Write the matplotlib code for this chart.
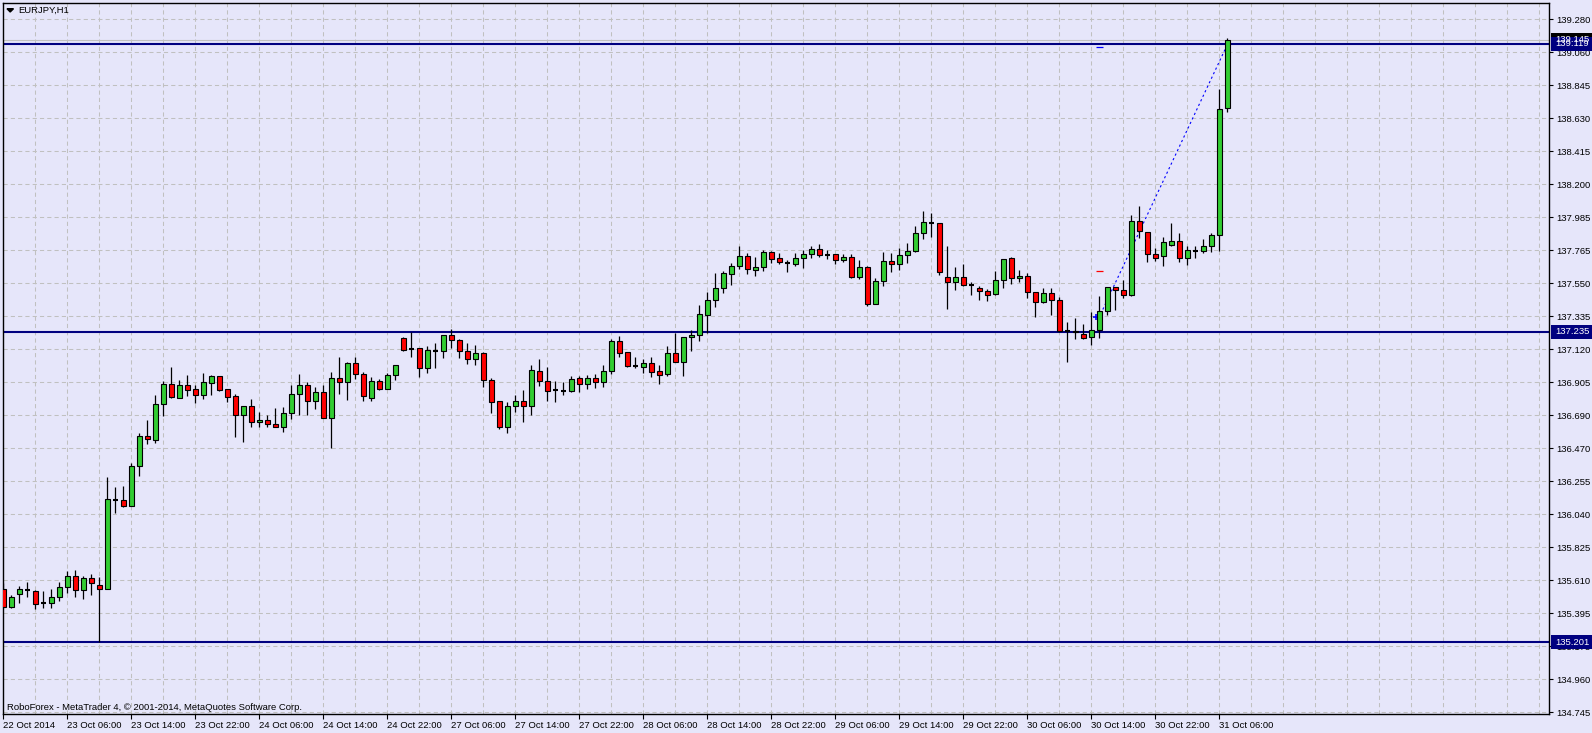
import matplotlib
matplotlib.use("Agg")
import matplotlib.pyplot as plt
import matplotlib.transforms as mtransforms
from matplotlib.patches import Rectangle, Polygon
import numpy as np

plt.rcParams["font.family"] = ["Liberation Sans", "DejaVu Sans"]

# 数据：EURJPY H1 蜡烛图 (开, 高, 低, 收)
opens = [135.548, 135.434, 135.515, 135.543, 135.535, 135.456, 135.456, 135.496, 135.561, 135.635,
         135.545, 135.620, 135.574, 135.552, 136.132, 136.130, 136.095, 136.353, 136.549, 136.527,
         136.759, 136.889, 136.802, 136.883, 136.857, 136.821, 136.896, 136.942, 136.857, 136.811,
         136.687, 136.746, 136.641, 136.656, 136.628, 136.612, 136.700, 136.824, 136.885, 136.778,
         136.837, 136.667, 136.929, 136.903, 137.027, 136.955, 136.802, 136.909, 136.861, 136.948,
         137.191, 137.122, 137.125, 136.994, 137.109, 137.105, 137.210, 137.177, 137.105, 137.053,
         137.092, 136.916, 136.778, 136.612, 136.746, 136.778, 136.746, 136.975, 136.909, 136.850,
         136.844, 136.844, 136.929, 136.889, 136.929, 136.907, 136.978, 137.171, 137.099, 137.011,
         137.005, 137.027, 136.975, 136.959, 137.092, 137.037, 137.197, 137.210, 137.345, 137.439,
         137.518, 137.609, 137.662, 137.727, 137.636, 137.655, 137.753, 137.714, 137.683, 137.675,
         137.714, 137.740, 137.773, 137.734, 137.740, 137.701, 137.720, 137.594, 137.655, 137.417,
         137.564, 137.694, 137.675, 137.734, 137.760, 137.878, 137.945, 137.943, 137.590, 137.557,
         137.590, 137.541, 137.518, 137.498, 137.478, 137.570, 137.714, 137.583, 137.596, 137.491,
         137.426, 137.485, 137.439, 137.240, 137.240, 137.221, 137.201, 137.247, 137.371, 137.524,
         137.505, 137.472, 137.956, 137.884, 137.740, 137.727, 137.799, 137.825, 137.714, 137.760,
         137.760, 137.793, 137.865, 138.696]
highs = [135.589, 135.511, 135.568, 135.594, 135.543, 135.537, 135.550, 135.598, 135.670, 135.674,
         135.637, 135.650, 135.630, 136.285, 136.219, 136.224, 136.376, 136.569, 136.656, 136.819,
         136.911, 137.005, 136.918, 136.950, 136.885, 136.965, 136.952, 136.944, 136.859, 136.826,
         136.748, 136.793, 136.708, 136.689, 136.734, 136.739, 136.885, 136.957, 136.903, 136.870,
         136.885, 136.970, 137.066, 137.033, 137.066, 136.972, 136.937, 136.922, 136.961, 137.018,
         137.197, 137.234, 137.128, 137.142, 137.158, 137.213, 137.249, 137.188, 137.158, 137.145,
         137.099, 136.929, 136.781, 136.772, 136.817, 136.850, 137.014, 137.053, 137.001, 136.909,
         136.903, 136.942, 136.942, 136.948, 136.957, 137.016, 137.188, 137.206, 137.102, 137.070,
         137.053, 137.068, 137.018, 137.140, 137.225, 137.200, 137.243, 137.408, 137.494, 137.618,
         137.629, 137.681, 137.793, 137.747, 137.721, 137.766, 137.764, 137.747, 137.701, 137.747,
         137.766, 137.793, 137.806, 137.766, 137.743, 137.740, 137.740, 137.701, 137.662, 137.583,
         137.753, 137.747, 137.779, 137.812, 137.923, 138.022, 138.010, 137.946, 137.793, 137.655,
         137.675, 137.557, 137.531, 137.511, 137.629, 137.710, 137.720, 137.636, 137.616, 137.494,
         137.518, 137.518, 137.463, 137.295, 137.321, 137.284, 137.361, 137.465, 137.527, 137.527,
         137.570, 137.995, 138.054, 137.886, 137.779, 137.851, 137.943, 137.878, 137.793, 137.793,
         137.838, 137.878, 138.822, 139.154]
lows = [135.426, 135.428, 135.460, 135.500, 135.419, 135.424, 135.428, 135.473, 135.526, 135.500,
        135.484, 135.511, 135.201, 135.548, 136.049, 136.088, 136.090, 136.291, 136.501, 136.507,
        136.682, 136.802, 136.798, 136.815, 136.769, 136.795, 136.821, 136.846, 136.776, 136.547,
        136.514, 136.612, 136.612, 136.612, 136.608, 136.579, 136.664, 136.689, 136.689, 136.728,
        136.667, 136.475, 136.828, 136.789, 136.926, 136.782, 136.782, 136.854, 136.858, 136.918,
        137.109, 137.070, 136.939, 136.961, 136.994, 137.064, 137.125, 137.064, 137.024, 137.018,
        136.874, 136.700, 136.599, 136.573, 136.710, 136.645, 136.691, 136.880, 136.782, 136.776,
        136.817, 136.840, 136.837, 136.861, 136.867, 136.874, 136.959, 137.070, 137.005, 136.998,
        136.965, 136.939, 136.893, 136.946, 137.033, 136.946, 137.109, 137.175, 137.223, 137.397,
        137.485, 137.537, 137.642, 137.609, 137.596, 137.629, 137.681, 137.675, 137.626, 137.666,
        137.653, 137.714, 137.720, 137.707, 137.679, 137.688, 137.587, 137.581, 137.404, 137.414,
        137.531, 137.626, 137.639, 137.685, 137.753, 137.838, 137.851, 137.603, 137.380, 137.505,
        137.531, 137.472, 137.439, 137.433, 137.472, 137.522, 137.548, 137.561, 137.452, 137.328,
        137.423, 137.341, 137.233, 137.035, 137.188, 137.188, 137.149, 137.194, 137.345, 137.378,
        137.452, 137.469, 137.845, 137.688, 137.694, 137.662, 137.796, 137.688, 137.668, 137.714,
        137.747, 137.753, 137.760, 138.669]
closes = [135.434, 135.500, 135.552, 135.543, 135.452, 135.456, 135.496, 135.561, 135.635, 135.545,
          135.622, 135.587, 135.552, 136.137, 136.132, 136.095, 136.355, 136.549, 136.530, 136.761,
          136.889, 136.808, 136.883, 136.854, 136.821, 136.903, 136.942, 136.852, 136.808, 136.687,
          136.746, 136.641, 136.656, 136.628, 136.612, 136.700, 136.824, 136.885, 136.778, 136.837,
          136.671, 136.929, 136.903, 137.027, 136.955, 136.811, 136.909, 136.861, 136.948, 137.014,
          137.116, 137.122, 136.994, 137.112, 137.109, 137.210, 137.177, 137.105, 137.053, 137.092,
          136.916, 136.772, 136.612, 136.746, 136.778, 136.746, 136.981, 136.909, 136.844, 136.850,
          136.844, 136.922, 136.889, 136.929, 136.907, 136.977, 137.171, 137.096, 137.011, 137.011,
          137.027, 136.972, 136.952, 137.092, 137.037, 137.197, 137.210, 137.348, 137.439, 137.518,
          137.616, 137.662, 137.727, 137.642, 137.655, 137.753, 137.707, 137.688, 137.683, 137.714,
          137.740, 137.773, 137.734, 137.734, 137.701, 137.720, 137.594, 137.655, 137.417, 137.564,
          137.694, 137.675, 137.734, 137.760, 137.878, 137.950, 137.945, 137.622, 137.557, 137.590,
          137.537, 137.541, 137.498, 137.472, 137.570, 137.707, 137.583, 137.596, 137.491, 137.426,
          137.485, 137.439, 137.236, 137.240, 137.230, 137.194, 137.247, 137.371, 137.524, 137.505,
          137.472, 137.956, 137.891, 137.740, 137.714, 137.819, 137.825, 137.714, 137.766, 137.760,
          137.793, 137.865, 138.689, 139.145]

# 时间轴标签 (每 8 根K线)
time_labels = ["22 Oct 2014", "23 Oct 06:00", "23 Oct 14:00", "23 Oct 22:00", "24 Oct 06:00",
               "24 Oct 14:00", "24 Oct 22:00", "27 Oct 06:00", "27 Oct 14:00", "27 Oct 22:00",
               "28 Oct 06:00", "28 Oct 14:00", "28 Oct 22:00", "29 Oct 06:00", "29 Oct 14:00",
               "29 Oct 22:00", "30 Oct 06:00", "30 Oct 14:00", "30 Oct 22:00", "31 Oct 06:00"]
price_labels = ["134.745", "134.960", "135.175", "135.395", "135.610", "135.825", "136.040",
                "136.255", "136.470", "136.690", "136.905", "137.120", "137.335", "137.550",
                "137.765", "137.985", "138.200", "138.415", "138.630", "138.845", "139.060",
                "139.280"]
level_lines = [139.119, 137.235, 135.201]
bid_price = 139.145
trend_x = [136.9, 152.7]
trend_y = [137.32, 139.08]
sl_price = 137.631
tp_price = 139.097

W, H = 1592, 733
BG = "#E6E6FA"
fig = plt.figure(figsize=(W / 100, H / 100), dpi=100, facecolor=BG)
ax = fig.add_axes([2.5 / W, (H - 714) / H, (1549 - 2.5) / W, (714 - 2.5) / H])
ax.set_facecolor(BG)

n = len(opens)
x = np.arange(n)
ax.set_xlim(-0.1, 193.2)
ax.set_ylim(134.732, 139.388)

# 网格
yt = np.linspace(134.745, 139.280, len(price_labels))
ax.hlines(yt, -0.1, 193.2, colors="#C0C0C0", linestyles=(0, (4, 3)), lw=0.75, zorder=0)
ax.vlines(np.arange(4, 194, 4), 134.732, 139.388, colors="#C0C0C0",
          linestyles=(0, (4, 3)), lw=0.75, zorder=0)

# 水平线
ax.axhline(bid_price, color="#C0C0C0", lw=0.8, zorder=1)
for lv in level_lines:
    ax.axhline(lv, color="#000080", lw=1.5, zorder=2)

# 趋势线与订单标记
ax.plot(trend_x, trend_y, color="#0000FF", lw=0.8, linestyle=(0, (2, 2.5)), zorder=2)
ax.hlines([sl_price], 136.6, 137.5, colors="#FF0000", lw=0.9, zorder=3)
ax.hlines([tp_price], 136.6, 137.5, colors="#0000FF", lw=0.9, zorder=3)
ax.plot([136.6], [137.33], marker="+", color="#0000FF", ms=5, mew=1.2, zorder=3)

# K线
o = np.array(opens); c = np.array(closes)
ax.vlines(x, lows, highs, colors="black", lw=0.9, zorder=4)
up = c > o
dn = c < o
eq = c == o
ax.bar(x[up], (c - o)[up], bottom=o[up], width=0.6, color="#32CD32",
       edgecolor="black", linewidth=0.8, zorder=5)
ax.bar(x[dn], (o - c)[dn], bottom=c[dn], width=0.6, color="#FF0000",
       edgecolor="black", linewidth=0.8, zorder=5)
ax.hlines(o[eq], x[eq] - 0.33, x[eq] + 0.33, colors="black", lw=1.5, zorder=5)

# 坐标轴
for s in ax.spines.values():
    s.set_linewidth(1.0)
    s.set_color("black")
ax.yaxis.tick_right()
ax.set_yticks(yt)
ax.set_yticklabels(price_labels)
ax.set_xticks(np.arange(0, 8 * len(time_labels), 8))
ax.set_xticklabels(time_labels, ha="left")
ax.tick_params(axis="y", right=True, left=False, length=3, width=0.8, pad=2,
               labelsize=6.8, colors="black")
ax.tick_params(axis="x", length=3.5, width=0.8, pad=1.5, labelsize=6.8, colors="black")

# 价格标签框
tr = mtransforms.blended_transform_factory(fig.transFigure, ax.transData)
box_h = 14 * (139.388 - 134.732) / (714 - 2.5)


def price_box(p, txt, color):
    fig.add_artist(Rectangle((1551 / W, p - box_h / 2), (W - 1551) / W, box_h,
                             transform=tr, facecolor=color, edgecolor="none", zorder=10))
    fig.text(1555 / W, p, txt, transform=tr, color="white", fontsize=6.8,
             va="center", ha="left", zorder=11)


price_box(bid_price, f"{bid_price:.3f}", "black")
for lv in level_lines:
    price_box(lv, f"{lv:.3f}", "#000080")

# 标题与版权
fig.add_artist(Polygon([(7 / W, 1 - 8.7 / H), (13.5 / W, 1 - 8.7 / H), (10.2 / W, 1 - 12 / H)],
                       closed=True, transform=fig.transFigure, color="black"))
fig.text(18 / W, 1 - 10.7 / H, "EURJPY,H1", fontsize=6.8, va="center", ha="left")
fig.text(7 / W, 1 - 707 / H, "RoboForex - MetaTrader 4, \u00a9 2001-2014, MetaQuotes Software Corp.",
         fontsize=6.8, va="center", ha="left")

fig.savefig("out.png", dpi=100, facecolor=BG)
